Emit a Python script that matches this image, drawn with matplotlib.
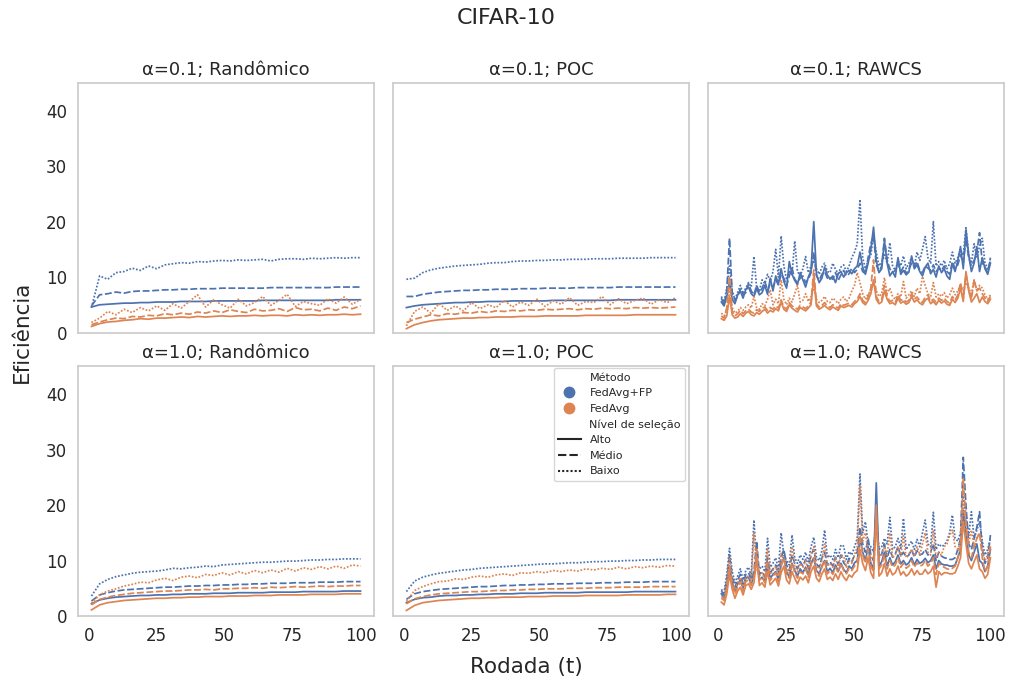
import numpy as np
import matplotlib.pyplot as plt
from matplotlib.lines import Line2D

# rounds
rounds = np.arange(1, 101)
rounds_s = np.arange(1, 101, 3)   # smooth panels read every 3 rounds

methods = ['FedAvg+FP', 'FedAvg']
levels = ['Alto', 'Médio', 'Baixo']
colors = {'FedAvg+FP': '#4C72B0', 'FedAvg': '#DD8452'}
dashes = {'Alto': None, 'Médio': (4, 1.5), 'Baixo': (1, 1)}

# ---- alpha=0.1, Randômico ----
r01_fp_alto = [4.6, 5.0, 5.1, 5.2, 5.3, 5.3, 5.4, 5.4, 5.5, 5.5, 5.5, 5.6, 5.6, 5.6, 5.6, 5.7, 5.7,
               5.7, 5.7, 5.7, 5.7, 5.8, 5.8, 5.8, 5.8, 5.8, 5.8, 5.8, 5.8, 5.8, 5.9, 5.9, 5.9, 5.9]
r01_fp_medio = [4.8, 6.8, 7.0, 7.3, 7.1, 7.4, 7.5, 7.5, 7.6, 7.7, 7.7, 7.8, 7.8, 7.9, 7.9, 7.9, 8.0,
                8.0, 8.0, 8.0, 8.0, 8.0, 8.1, 8.1, 8.1, 8.1, 8.1, 8.1, 8.1, 8.1, 8.2, 8.2, 8.2, 8.2]
r01_fp_baixo = [4.5, 10.2, 9.6, 10.8, 11.0, 11.6, 11.2, 12.0, 11.5, 12.2, 12.4, 12.6, 12.5, 12.8, 12.7, 12.9, 13.0,
                12.9, 13.1, 13.0, 13.1, 13.2, 12.9, 13.2, 13.3, 13.3, 13.2, 13.4, 13.3, 13.4, 13.5, 13.4, 13.5, 13.5]
r01_fa_alto = [1.1, 1.6, 1.9, 2.0, 2.2, 2.3, 2.5, 2.4, 2.6, 2.6, 2.7, 2.8, 2.7, 2.9, 2.8, 2.9, 3.0,
               2.9, 3.0, 3.0, 3.1, 3.0, 3.1, 3.1, 3.0, 3.2, 3.1, 3.2, 3.1, 3.2, 3.2, 3.3, 3.2, 3.3]
r01_fa_medio = [1.4, 1.9, 2.3, 2.6, 2.5, 2.9, 2.8, 3.1, 3.0, 3.4, 3.2, 3.5, 3.3, 3.7, 3.5, 3.9, 3.6,
                4.1, 3.8, 3.6, 4.2, 3.9, 4.0, 4.3, 3.8, 4.5, 4.1, 4.2, 3.9, 4.4, 4.0, 4.6, 4.3, 4.8]
r01_fa_baixo = [1.8, 2.6, 3.8, 3.2, 4.2, 3.6, 4.5, 3.9, 4.8, 4.0, 5.2, 4.4, 5.6, 6.8, 4.6, 5.9, 5.0,
                4.4, 6.0, 4.8, 5.4, 6.5, 4.9, 5.8, 6.9, 4.7, 5.6, 5.2, 4.9, 6.1, 5.3, 6.4, 5.1, 6.0]

# ---- alpha=0.1, POC ----
p01_fp_alto = [4.5, 4.8, 5.0, 5.1, 5.2, 5.3, 5.4, 5.4, 5.5, 5.5, 5.6, 5.6, 5.6, 5.7, 5.7, 5.7, 5.7,
               5.7, 5.8, 5.8, 5.8, 5.8, 5.8, 5.8, 5.8, 5.8, 5.9, 5.9, 5.9, 5.9, 5.9, 5.9, 5.9, 5.9]
p01_fp_medio = [6.5, 6.5, 6.9, 7.1, 7.3, 7.4, 7.5, 7.6, 7.6, 7.7, 7.7, 7.8, 7.8, 7.8, 7.9, 7.9, 7.9,
                8.0, 8.0, 8.0, 8.0, 8.1, 8.1, 8.1, 8.1, 8.1, 8.2, 8.2, 8.2, 8.2, 8.2, 8.2, 8.2, 8.2]
p01_fp_baixo = [9.6, 9.8, 10.8, 11.3, 11.6, 11.8, 12.0, 12.1, 12.2, 12.3, 12.5, 12.6, 12.6, 12.8, 12.9, 12.9, 13.0,
                13.0, 13.1, 13.1, 13.2, 13.2, 13.2, 13.3, 13.3, 13.3, 13.4, 13.4, 13.4, 13.4, 13.5, 13.5, 13.5, 13.5]
p01_fa_alto = [0.7, 1.4, 1.8, 2.1, 2.3, 2.4, 2.5, 2.6, 2.6, 2.7, 2.7, 2.8, 2.8, 2.8, 2.9, 2.9, 2.9,
               3.0, 3.0, 3.0, 3.0, 3.0, 3.1, 3.1, 3.1, 3.1, 3.1, 3.1, 3.2, 3.2, 3.2, 3.2, 3.2, 3.2]
p01_fa_medio = [1.8, 2.4, 2.8, 3.2, 3.0, 3.4, 3.3, 3.6, 3.5, 3.8, 3.6, 3.9, 3.8, 4.0, 3.9, 4.1, 4.0,
                4.2, 4.1, 4.2, 4.3, 4.1, 4.3, 4.2, 4.4, 4.3, 4.4, 4.3, 4.5, 4.4, 4.5, 4.4, 4.5, 4.6]
p01_fa_baixo = [1.2, 3.8, 4.6, 3.5, 5.2, 4.0, 4.8, 3.9, 5.4, 4.3, 5.0, 4.5, 5.8, 4.6, 5.5, 4.9, 6.0,
                4.7, 5.7, 5.1, 6.3, 4.9, 5.6, 5.4, 6.5, 5.0, 6.1, 5.2, 5.8, 6.2, 5.1, 5.9, 5.4, 6.3]

# ---- alpha=0.1, RAWCS ----
w01_fp_alto = [5.5, 4.8, 6.5, 9.0, 6.0, 5.2, 6.8, 7.5, 6.2, 7.8,
               8.2, 7.0, 6.5, 7.9, 6.8, 7.2, 8.5, 6.9, 9.8, 7.5,
               10.2, 8.8, 11.5, 9.2, 8.0, 12.8, 10.5, 9.4, 8.6, 10.8,
               9.5, 8.2, 10.0, 11.2, 20.0, 10.5, 9.0, 9.8, 11.8, 10.4,
               9.6, 10.2, 9.0, 10.6, 11.0, 10.0, 10.8, 11.2, 10.6, 11.5,
               12.0, 14.5, 11.8, 10.5, 12.5, 15.0, 19.0, 13.0, 10.8, 11.5,
               16.5, 12.5, 10.2, 11.0, 10.0, 13.5, 10.5, 11.2, 10.4, 10.9,
               13.8, 11.5, 12.2, 11.0, 10.2, 11.8, 12.5, 10.6, 11.4, 10.0,
               12.0, 10.8, 11.5, 10.2, 9.6, 12.4, 11.0, 13.0, 15.5, 11.5,
               18.5, 14.0, 11.0, 12.5, 15.5, 11.0, 13.5, 11.5, 10.5, 12.5]
w01_fp_medio = [6.2, 5.0, 7.5, 17.0, 7.0, 5.8, 6.5, 7.8, 6.8, 7.2,
                8.8, 7.5, 6.8, 8.5, 7.2, 8.0, 9.2, 7.6, 8.8, 8.2,
                9.5, 8.6, 10.5, 9.8, 8.4, 10.2, 11.6, 9.6, 9.0, 9.8,
                10.2, 9.0, 9.6, 10.8, 14.5, 10.2, 9.4, 10.5, 11.0, 9.8,
                10.0, 9.6, 10.8, 9.4, 10.4, 11.2, 10.2, 10.6, 11.6, 10.8,
                11.4, 12.5, 11.0, 10.6, 13.5, 16.0, 17.5, 12.2, 11.0, 12.0,
                17.0, 13.0, 11.5, 10.8, 11.2, 12.5, 11.0, 11.8, 10.6, 11.4,
                12.5, 11.8, 12.8, 11.2, 10.8, 12.0, 11.6, 11.2, 12.2, 11.0,
                11.6, 11.2, 12.0, 11.0, 10.5, 12.8, 11.5, 12.2, 14.0, 12.5,
                17.0, 13.5, 12.0, 13.0, 14.5, 18.0, 12.5, 11.8, 10.8, 13.5]
w01_fp_baixo = [6.5, 5.5, 8.0, 12.0, 7.5, 6.0, 7.2, 8.5, 7.0, 8.0,
                9.0, 8.2, 13.7, 8.0, 7.5, 9.5, 8.8, 10.5, 9.2, 11.0,
                15.0, 10.0, 17.4, 12.0, 9.5, 11.0, 10.5, 16.5, 11.0, 10.2,
                11.5, 13.7, 10.8, 12.0, 13.0, 11.5, 10.5, 11.8, 12.5, 11.0,
                10.8, 12.5, 11.4, 10.6, 11.8, 12.2, 11.0, 12.0, 13.5, 14.5,
                16.0, 24.0, 13.5, 11.5, 13.0, 14.0, 17.5, 14.5, 12.0, 12.8,
                14.0, 12.5, 16.2, 12.0, 11.2, 13.0, 12.0, 13.8, 11.5, 12.5,
                13.5, 12.0, 14.5, 13.0, 15.0, 17.3, 13.5, 12.5, 20.0, 12.0,
                12.8, 12.0, 13.0, 11.5, 12.4, 14.5, 12.5, 13.5, 15.0, 14.0,
                18.9, 14.0, 12.5, 16.0, 13.5, 15.5, 17.0, 12.5, 11.5, 13.0]
w01_fa_alto = [2.5, 2.2, 3.0, 6.5, 3.2, 2.6, 2.8, 3.4, 2.9, 3.5,
               3.8, 3.2, 3.0, 3.6, 3.3, 3.8, 4.2, 3.5, 4.0, 3.7,
               4.3, 3.9, 5.5, 4.2, 3.8, 5.0, 4.4, 4.0, 3.7, 4.5,
               4.2, 3.9, 4.4, 5.0, 10.0, 4.8, 4.2, 4.5, 4.9, 4.4,
               4.1, 4.6, 4.3, 4.0, 4.8, 4.5, 4.7, 4.9, 4.6, 5.2,
               5.6, 6.5, 5.4, 5.0, 5.8, 7.0, 9.5, 6.0, 5.2, 5.5,
               7.5, 6.0, 5.2, 5.4, 5.0, 6.2, 5.3, 5.6, 5.1, 5.4,
               6.5, 5.5, 5.9, 5.3, 5.0, 5.8, 6.2, 5.2, 5.6, 5.0,
               5.8, 5.3, 5.7, 5.1, 4.9, 6.0, 5.4, 6.2, 8.0, 5.6,
               11.0, 7.5, 5.5, 6.2, 7.0, 5.4, 6.4, 5.6, 5.2, 6.0]
w01_fa_medio = [3.0, 2.6, 4.5, 10.1, 3.8, 3.0, 3.4, 4.0, 3.4, 3.9,
                4.2, 3.7, 3.5, 4.1, 3.8, 4.4, 4.6, 4.0, 4.5, 4.2,
                4.8, 4.4, 5.9, 4.6, 4.2, 5.4, 4.8, 4.5, 4.2, 4.9,
                4.6, 4.3, 4.8, 5.5, 11.3, 5.2, 4.6, 4.9, 5.4, 4.8,
                4.5, 5.0, 4.7, 4.4, 5.2, 4.9, 5.1, 5.3, 5.0, 5.6,
                6.0, 7.0, 5.8, 5.4, 6.5, 8.0, 13.1, 6.5, 5.6, 6.0,
                8.5, 6.5, 5.6, 5.8, 5.4, 6.8, 5.8, 6.0, 5.5, 5.8,
                7.0, 6.0, 6.4, 5.8, 5.4, 6.4, 6.8, 5.6, 6.0, 5.5,
                6.2, 5.8, 6.2, 5.6, 5.3, 6.5, 5.8, 6.8, 9.0, 6.2,
                10.5, 8.0, 6.0, 9.5, 7.5, 8.0, 7.0, 6.2, 5.6, 6.5]
w01_fa_baixo = [3.5, 3.0, 4.0, 8.0, 4.5, 3.5, 3.8, 4.5, 4.0, 4.6,
                5.0, 4.4, 6.5, 4.5, 4.2, 5.2, 4.8, 6.0, 7.7, 5.0,
                6.0, 5.2, 9.5, 6.0, 5.0, 6.2, 5.5, 7.0, 8.5, 5.5,
                5.8, 7.0, 5.6, 6.5, 8.0, 6.0, 5.4, 5.8, 6.5, 5.6,
                5.4, 6.2, 5.8, 5.2, 6.0, 6.4, 5.6, 6.2, 7.5, 8.5,
                10.8, 9.0, 7.0, 6.0, 7.0, 7.5, 9.0, 7.5, 6.5, 7.0,
                9.9, 7.0, 8.0, 6.5, 6.0, 7.0, 6.4, 9.2, 6.2, 6.8,
                7.5, 6.5, 8.0, 7.0, 10.1, 8.5, 7.0, 6.5, 9.0, 6.4,
                7.0, 6.5, 7.2, 6.2, 6.8, 8.0, 6.8, 7.5, 8.5, 7.5,
                9.0, 8.0, 7.0, 9.5, 7.5, 8.5, 8.0, 6.8, 6.0, 6.8]

# ---- alpha=1.0, Randômico ----
r10_fp_alto = [2.2, 2.9, 3.2, 3.4, 3.5, 3.6, 3.7, 3.7, 3.8, 3.8, 3.9, 3.9, 4.0, 4.0, 4.0, 4.1, 4.1,
               4.1, 4.2, 4.2, 4.2, 4.2, 4.3, 4.3, 4.3, 4.3, 4.4, 4.4, 4.4, 4.4, 4.4, 4.5, 4.5, 4.5]
r10_fp_medio = [2.7, 3.8, 4.2, 4.5, 4.7, 4.8, 4.9, 5.0, 5.1, 5.2, 5.2, 5.3, 5.4, 5.4, 5.5, 5.5, 5.6,
                5.6, 5.7, 5.7, 5.8, 5.8, 5.9, 5.9, 5.9, 6.0, 6.0, 6.0, 6.1, 6.1, 6.1, 6.2, 6.2, 6.2]
r10_fp_baixo = [3.6, 5.8, 6.6, 7.1, 7.4, 7.7, 7.9, 8.0, 8.1, 8.3, 8.6, 8.5, 8.7, 8.8, 9.0, 8.9, 9.2,
                9.3, 9.4, 9.5, 9.6, 9.7, 9.7, 9.8, 9.9, 9.9, 10.0, 10.1, 10.1, 10.2, 10.2, 10.3, 10.3, 10.3]
r10_fa_alto = [1.1, 2.0, 2.4, 2.6, 2.8, 2.9, 3.0, 3.1, 3.2, 3.2, 3.3, 3.3, 3.4, 3.4, 3.5, 3.5, 3.5,
               3.6, 3.6, 3.6, 3.7, 3.7, 3.7, 3.8, 3.8, 3.8, 3.8, 3.9, 3.9, 3.9, 3.9, 4.0, 4.0, 4.0]
r10_fa_medio = [2.0, 3.0, 3.4, 3.7, 3.9, 4.1, 4.2, 4.3, 4.4, 4.5, 4.5, 4.6, 4.7, 4.7, 4.8, 4.7, 4.9,
                4.9, 5.0, 5.0, 5.1, 5.0, 5.2, 5.1, 5.2, 5.3, 5.2, 5.3, 5.4, 5.3, 5.4, 5.4, 5.5, 5.5]
r10_fa_baixo = [2.3, 3.8, 4.5, 4.9, 5.4, 5.7, 6.1, 6.0, 6.5, 6.8, 6.4, 7.0, 7.2, 6.9, 7.5, 7.3, 7.8,
                7.4, 8.0, 7.6, 8.2, 7.8, 8.3, 7.9, 8.6, 8.1, 8.7, 8.4, 8.9, 8.5, 9.0, 8.6, 9.2, 9.0]

# ---- alpha=1.0, POC ----
p10_fp_alto = [2.4, 3.0, 3.3, 3.4, 3.6, 3.7, 3.7, 3.8, 3.8, 3.9, 3.9, 4.0, 4.0, 4.0, 4.1, 4.1, 4.1,
               4.2, 4.2, 4.2, 4.2, 4.2, 4.3, 4.3, 4.3, 4.3, 4.3, 4.3, 4.4, 4.4, 4.4, 4.4, 4.4, 4.4]
p10_fp_medio = [3.0, 4.0, 4.4, 4.6, 4.8, 4.9, 5.0, 5.1, 5.2, 5.3, 5.3, 5.4, 5.5, 5.5, 5.6, 5.6, 5.7,
                5.7, 5.8, 5.8, 5.8, 5.9, 5.9, 5.9, 6.0, 6.0, 6.0, 6.1, 6.1, 6.1, 6.2, 6.2, 6.2, 6.2]
p10_fp_baixo = [4.4, 6.3, 7.0, 7.4, 7.7, 7.9, 8.1, 8.3, 8.4, 8.6, 8.7, 8.8, 8.9, 9.0, 9.1, 9.2, 9.3,
                9.4, 9.4, 9.5, 9.6, 9.6, 9.7, 9.8, 9.8, 9.9, 9.9, 10.0, 10.0, 10.1, 10.1, 10.2, 10.2, 10.2]
p10_fa_alto = [1.0, 1.9, 2.4, 2.6, 2.8, 2.9, 3.0, 3.1, 3.2, 3.2, 3.3, 3.3, 3.4, 3.4, 3.4, 3.5, 3.5,
               3.5, 3.6, 3.6, 3.6, 3.6, 3.7, 3.7, 3.7, 3.7, 3.7, 3.8, 3.8, 3.8, 3.8, 3.8, 3.9, 3.9]
p10_fa_medio = [2.2, 3.1, 3.5, 3.8, 4.0, 4.1, 4.2, 4.3, 4.4, 4.4, 4.5, 4.6, 4.6, 4.7, 4.7, 4.8, 4.8,
                4.9, 4.9, 4.9, 5.0, 5.0, 5.0, 5.1, 5.1, 5.1, 5.2, 5.2, 5.2, 5.2, 5.3, 5.3, 5.3, 5.3]
p10_fa_baixo = [2.6, 4.6, 5.3, 5.8, 6.2, 6.3, 6.7, 6.6, 7.0, 7.2, 7.0, 7.4, 7.6, 7.3, 7.8, 7.7, 8.0,
                7.8, 8.2, 8.0, 8.3, 8.1, 8.5, 8.3, 8.6, 8.4, 8.8, 8.5, 8.9, 8.7, 9.0, 8.8, 9.1, 9.0]

# ---- alpha=1.0, RAWCS ----
w10_fp_alto = [4.0, 3.2, 5.5, 9.0, 6.0, 4.5, 5.8, 6.5, 5.0, 6.8,
               7.0, 5.8, 7.2, 11.0, 6.5, 7.0, 6.2, 9.0, 6.8, 7.5,
               8.0, 6.5, 9.2, 10.5, 8.0, 7.0, 9.5, 8.2, 7.2, 8.5,
               7.8, 8.8, 7.4, 9.5, 10.5, 8.2, 7.6, 9.0, 10.0, 8.0,
               8.6, 7.8, 9.2, 8.0, 9.5, 8.4, 7.8, 9.0, 8.5, 9.6,
               10.0, 14.0, 11.5, 10.0, 12.5, 9.5, 8.5, 24.0, 9.0, 9.8,
               11.5, 9.0, 10.5, 9.2, 9.8, 11.0, 9.4, 10.0, 9.2, 9.6,
               10.5, 9.2, 10.2, 9.5, 9.8, 10.4, 9.6, 10.0, 11.0, 8.5,
               10.0, 9.4, 9.2, 9.2, 9.0, 9.0, 9.2, 10.5, 12.0, 19.0,
               15.0, 11.0, 10.0, 11.5, 13.0, 10.0, 9.5, 8.0, 9.0, 12.0]
w10_fp_medio = [4.5, 3.8, 6.5, 11.0, 7.0, 5.2, 6.5, 7.5, 5.8, 7.5,
                7.8, 6.5, 8.0, 13.5, 7.5, 8.0, 7.0, 10.5, 7.8, 8.5,
                9.2, 7.5, 10.5, 12.0, 9.2, 8.2, 11.0, 9.5, 8.5, 9.8,
                9.0, 10.2, 8.6, 11.0, 12.0, 9.4, 8.8, 10.5, 11.5, 9.2,
                9.8, 9.0, 10.6, 9.2, 11.0, 9.6, 9.0, 10.4, 9.8, 11.0,
                11.5, 16.0, 13.0, 11.5, 14.0, 11.0, 10.0, 20.0, 10.5, 11.2,
                13.0, 10.5, 12.0, 10.6, 11.2, 12.5, 10.8, 11.5, 10.6, 11.0,
                12.0, 10.6, 11.8, 11.0, 11.2, 12.0, 11.0, 11.5, 13.0, 10.0,
                11.5, 10.8, 10.5, 10.4, 10.2, 10.2, 10.5, 12.0, 14.0, 28.6,
                20.0, 13.0, 12.0, 14.0, 16.0, 18.8, 12.0, 9.5, 10.5, 14.6]
w10_fp_baixo = [4.8, 4.2, 7.5, 12.2, 8.0, 6.0, 7.2, 8.5, 6.5, 8.2,
                8.8, 7.2, 17.3, 9.5, 8.5, 9.0, 8.0, 14.0, 8.8, 9.5,
                10.5, 8.5, 15.0, 11.0, 10.0, 9.2, 14.6, 10.5, 9.5, 11.0,
                10.2, 11.5, 9.8, 12.5, 14.2, 10.5, 10.0, 11.8, 15.5, 10.5,
                11.0, 10.2, 12.0, 10.5, 12.8, 12.6, 10.2, 11.6, 11.0, 12.5,
                14.0, 25.6, 15.0, 17.0, 13.0, 12.5, 11.5, 18.0, 12.0, 12.5,
                14.0, 13.0, 17.8, 12.0, 12.5, 14.0, 12.2, 17.6, 12.0, 12.8,
                13.5, 12.0, 13.8, 12.5, 15.0, 17.3, 13.0, 12.5, 18.7, 12.0,
                13.0, 12.5, 12.8, 13.5, 15.0, 18.2, 14.0, 13.5, 15.0, 22.0,
                18.0, 14.5, 18.8, 14.0, 15.5, 17.0, 13.5, 11.0, 12.0, 14.0]
w10_fa_alto = [2.5, 2.0, 4.0, 7.5, 4.8, 3.2, 4.5, 5.2, 3.8, 5.5,
               5.8, 4.8, 6.0, 10.5, 5.5, 6.0, 5.2, 8.0, 5.6, 6.2,
               6.8, 5.4, 7.8, 9.0, 6.5, 5.8, 8.0, 6.8, 5.8, 7.0,
               6.5, 7.2, 6.0, 8.0, 9.0, 6.8, 6.2, 7.6, 8.5, 6.6,
               7.0, 6.4, 7.6, 6.6, 8.0, 7.0, 6.4, 7.4, 7.0, 7.8,
               8.2, 12.0, 9.5, 8.2, 10.5, 7.8, 6.8, 20.0, 7.2, 7.8,
               9.5, 7.2, 8.5, 7.4, 7.8, 9.0, 7.4, 8.0, 7.2, 7.6,
               8.5, 7.4, 8.2, 7.5, 7.6, 8.4, 7.6, 8.0, 9.0, 5.2,
               8.0, 7.4, 7.8, 7.8, 7.6, 7.6, 7.8, 9.0, 10.5, 17.0,
               13.0, 9.5, 8.5, 9.8, 11.0, 8.5, 8.0, 6.8, 7.5, 10.5]
w10_fa_medio = [3.2, 2.8, 5.0, 9.0, 5.8, 4.0, 5.2, 6.2, 4.5, 6.2,
                6.5, 5.5, 7.0, 12.0, 6.5, 7.0, 6.0, 9.5, 6.4, 7.2,
                7.8, 6.2, 9.0, 10.5, 7.6, 6.8, 9.5, 7.8, 6.8, 8.0,
                7.6, 8.5, 7.0, 9.2, 10.5, 7.8, 7.2, 8.8, 10.0, 7.6,
                8.2, 7.5, 8.8, 7.8, 9.5, 8.2, 7.6, 8.6, 8.2, 9.0,
                9.5, 14.5, 11.0, 9.5, 12.0, 9.0, 8.0, 18.0, 8.5, 9.2,
                11.0, 8.5, 10.0, 8.8, 9.2, 10.5, 8.8, 9.5, 8.6, 9.0,
                10.0, 8.8, 9.6, 9.0, 9.2, 10.0, 9.0, 9.5, 10.5, 7.5,
                9.5, 9.0, 8.8, 8.5, 8.4, 8.6, 9.0, 10.5, 12.5, 24.8,
                17.0, 11.5, 10.5, 12.5, 14.0, 15.0, 10.5, 8.0, 9.0, 12.5]
w10_fa_baixo = [3.5, 3.2, 6.0, 10.5, 6.5, 4.8, 6.0, 7.0, 5.2, 7.0,
                7.2, 6.2, 15.0, 8.5, 7.2, 7.8, 6.8, 12.0, 7.5, 8.2,
                9.0, 7.2, 11.3, 10.0, 8.5, 7.8, 12.5, 9.0, 8.0, 9.5,
                8.8, 10.0, 8.2, 11.0, 12.5, 9.0, 8.5, 10.0, 13.0, 9.0,
                9.5, 8.8, 10.5, 9.0, 11.0, 10.8, 8.8, 10.0, 9.5, 11.0,
                12.5, 23.6, 13.5, 15.0, 11.5, 11.0, 10.0, 15.5, 10.5, 11.0,
                12.5, 11.0, 15.0, 10.5, 11.0, 12.5, 10.8, 14.5, 10.5, 11.2,
                12.0, 10.8, 12.5, 11.0, 13.0, 15.0, 11.5, 11.0, 15.5, 10.5,
                11.5, 11.0, 12.5, 13.0, 14.5, 15.5, 12.5, 12.0, 13.5, 20.0,
                16.0, 13.0, 15.5, 12.5, 14.0, 15.0, 12.0, 10.0, 11.0, 13.0]

panels = [
    ('α=0.1; Randômico', rounds_s, [r01_fp_alto, r01_fp_medio, r01_fp_baixo, r01_fa_alto, r01_fa_medio, r01_fa_baixo]),
    ('α=0.1; POC', rounds_s, [p01_fp_alto, p01_fp_medio, p01_fp_baixo, p01_fa_alto, p01_fa_medio, p01_fa_baixo]),
    ('α=0.1; RAWCS', rounds, [w01_fp_alto, w01_fp_medio, w01_fp_baixo, w01_fa_alto, w01_fa_medio, w01_fa_baixo]),
    ('α=1.0; Randômico', rounds_s, [r10_fp_alto, r10_fp_medio, r10_fp_baixo, r10_fa_alto, r10_fa_medio, r10_fa_baixo]),
    ('α=1.0; POC', rounds_s, [p10_fp_alto, p10_fp_medio, p10_fp_baixo, p10_fa_alto, p10_fa_medio, p10_fa_baixo]),
    ('α=1.0; RAWCS', rounds, [w10_fp_alto, w10_fp_medio, w10_fp_baixo, w10_fa_alto, w10_fa_medio, w10_fa_baixo]),
]

plt.rcParams['font.family'] = 'DejaVu Sans'
plt.rcParams['text.color'] = '#262626'
plt.rcParams['xtick.color'] = '#262626'
plt.rcParams['ytick.color'] = '#262626'

fig, axes = plt.subplots(2, 3, figsize=(10.13, 6.83), dpi=100, sharex=True, sharey=True)
fig.subplots_adjust(left=0.077, right=0.991, top=0.8785, bottom=0.0981, wspace=0.064, hspace=0.136)

for ax, (title, x, series) in zip(axes.flat, panels):
    k = 0
    for m in methods:
        for lv in levels:
            line, = ax.plot(x, series[k], color=colors[m], lw=1.25)
            if dashes[lv] is not None:
                line.set_dashes(dashes[lv])
            k += 1
    ax.set_title(title, fontsize=13, pad=6)
    for s in ax.spines.values():
        s.set_color('#cccccc')
        s.set_linewidth(1.25)
    ax.tick_params(length=0, pad=8, labelsize=12)

ax = axes[0, 0]
ax.set_ylim(0, 45)
ax.set_yticks([0, 10, 20, 30, 40])
ax.set_xticks([0, 25, 50, 75, 100])

# legend in the bottom-middle panel
blank = Line2D([], [], linestyle='none')
handles = [blank,
           Line2D([], [], linestyle='none', marker='o', markersize=7.5, color=colors['FedAvg+FP']),
           Line2D([], [], linestyle='none', marker='o', markersize=7.5, color=colors['FedAvg']),
           blank,
           Line2D([], [], color='#262626', lw=1.5),
           Line2D([], [], color='#262626', lw=1.5, dashes=(4, 1.5)),
           Line2D([], [], color='#262626', lw=1.5, dashes=(1, 1))]
labels = ['Método', 'FedAvg+FP', 'FedAvg', 'Nível de seleção', 'Alto', 'Médio', 'Baixo']
leg = axes[1, 1].legend(handles, labels, loc='upper right', bbox_to_anchor=(0.988, 0.993),
                        borderaxespad=0, fontsize=8, frameon=True)
leg.get_frame().set_edgecolor('#cccccc')

fig.text(0.5, 0.974, 'CIFAR-10', ha='center', va='center', fontsize=16)
fig.text(0.52, 0.023, 'Rodada (t)', ha='center', va='center', fontsize=15.5)
fig.text(0.022, 0.514, 'Eficiência', ha='center', va='center', rotation=90, fontsize=15.5)

fig.savefig('out.png', dpi=100)
